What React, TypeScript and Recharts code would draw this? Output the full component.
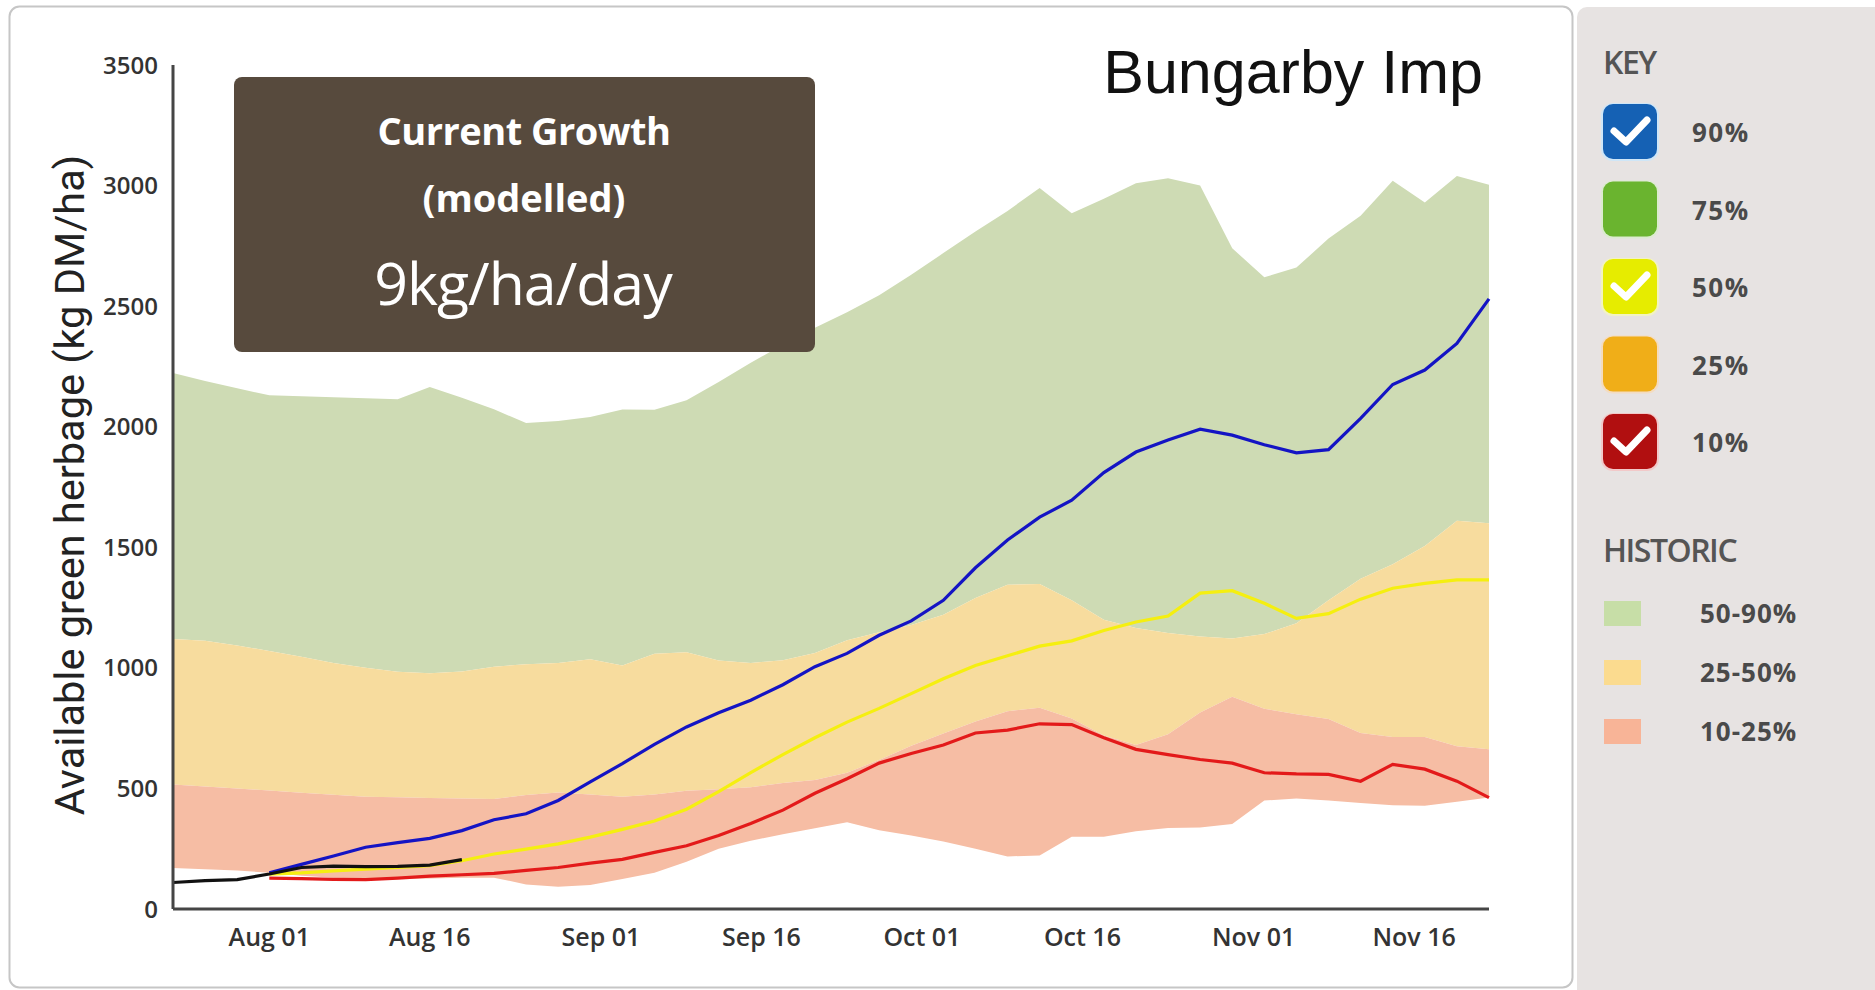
import React from 'react';
import { ComposedChart, Area, Line, XAxis, YAxis } from 'recharts';

// days since Jul 23, sampled every 3 days
const days = [0, 3, 6, 9, 12, 15, 18, 21, 24, 27, 30, 33, 36, 39, 42, 45, 48, 51, 54, 57, 60, 63, 66, 69, 72, 75, 78, 81, 84, 87, 90, 93, 96, 99, 102, 105, 108, 111, 114, 117, 120, 123];

const tickDays = [9, 24, 40, 55, 70, 85, 101, 116];
const tickLabels = ['Aug 01', 'Aug 16', 'Sep 01', 'Sep 16', 'Oct 01', 'Oct 16', 'Nov 01', 'Nov 16'];
const yTicks = [0, 500, 1000, 1500, 2000, 2500, 3000, 3500];

// historic percentiles
const hist90 = [2223, 2190, 2159, 2130, 2126, 2122, 2118, 2114, 2165, 2120, 2072, 2015, 2024, 2040, 2071, 2070, 2110, 2185, 2265, 2340, 2410, 2475, 2545, 2630, 2720, 2810, 2895, 2990, 2885, 2945, 3010, 3030, 3000, 2740, 2620, 2660, 2780, 2875, 3020, 2930, 3040, 3003];
const hist50 = [1120, 1112, 1093, 1070, 1046, 1020, 1000, 984, 978, 985, 1005, 1015, 1020, 1036, 1010, 1058, 1065, 1030, 1020, 1032, 1062, 1115, 1148, 1178, 1220, 1290, 1345, 1348, 1280, 1200, 1165, 1145, 1130, 1122, 1140, 1185, 1280, 1370, 1430, 1505, 1610, 1600];
const hist25 = [516, 508, 500, 491, 482, 474, 466, 463, 460, 458, 456, 473, 483, 475, 466, 475, 490, 497, 505, 522, 535, 565, 618, 677, 728, 778, 820, 835, 790, 720, 680, 725, 815, 880, 830, 808, 788, 730, 713, 713, 675, 662];
const hist10 = [170, 165, 160, 150, 138, 130, 126, 125, 127, 130, 130, 102, 92, 100, 124, 150, 196, 250, 283, 310, 335, 360, 327, 305, 280, 250, 218, 222, 300, 300, 322, 336, 338, 352, 450, 458, 450, 440, 430, 428, 445, 462];

// modelled outlook, starting Aug 01 (index 3)
const modelStart = 3;
const model90 = [150, 185, 220, 256, 275, 293, 325, 370, 395, 450, 527, 603, 683, 755, 814, 866, 930, 1005, 1060, 1135, 1195, 1280, 1415, 1530, 1625, 1695, 1810, 1895, 1945, 1990, 1965, 1925, 1892, 1905, 2035, 2175, 2235, 2345, 2530];
const model50 = [145, 150, 158, 165, 172, 180, 200, 228, 248, 270, 298, 330, 365, 414, 487, 566, 640, 710, 775, 832, 893, 955, 1010, 1050, 1090, 1112, 1155, 1190, 1215, 1310, 1320, 1268, 1205, 1225, 1285, 1330, 1350, 1365, 1365];
const model10 = [128, 126, 123, 122, 128, 136, 142, 148, 160, 172, 190, 206, 235, 262, 305, 355, 410, 480, 540, 605, 645, 680, 730, 742, 768, 765, 710, 662, 640, 620, 605, 565, 560, 558, 530, 600, 580, 530, 462];

// observed so far
const observed = [110, 118, 122, 145, 172, 178, 176, 177, 182, 205];

const keyItems = [
  { label: '90%', color: '#1561b4', glow: '#cfe6f7', checked: true },
  { label: '75%', color: '#6ab42f', glow: '#dcebd0', checked: false },
  { label: '50%', color: '#e6ec00', glow: '#f2f3c2', checked: true },
  { label: '25%', color: '#f0ae18', glow: '#f4dcc0', checked: false },
  { label: '10%', color: '#b10f10', glow: '#f2c9c9', checked: true },
];

const historicItems = [
  { label: '50-90%', color: '#c7dea7' },
  { label: '25-50%', color: '#fbdb8f' },
  { label: '10-25%', color: '#f8b497' },
];

const rows = days.map((d, i) => ({
  day: d,
  green: [hist50[i], hist90[i]],
  orange: [hist25[i], hist50[i]],
  pink: [hist10[i], hist25[i]],
  m90: i >= modelStart ? model90[i - modelStart] : null,
  m50: i >= modelStart ? model50[i - modelStart] : null,
  m10: i >= modelStart ? model10[i - modelStart] : null,
  obs: i < observed.length ? observed[i] : null,
}));

const xTickFont = { fontSize: 25, fill: '#333', fontFamily: 'Open Sans', fontWeight: 600 };
const yTickFont = { fontSize: 24, fill: '#333', fontFamily: 'Open Sans', fontWeight: 600 };
const axisStyle = { stroke: '#454545', strokeWidth: 3 };

const Check = ({ x, y }: { x: number; y: number }) => (
  <path
    d={`M${x + 11} ${y + 27} L${x + 23} ${y + 38} L${x + 44} ${y + 16}`}
    fill="none"
    stroke="#fff"
    strokeWidth={7}
    strokeLinecap="round"
    strokeLinejoin="round"
  />
);

export default function App() {
  return (
    <div style={{ position: 'relative', width: 1875, height: 990, overflow: 'hidden', background: '#fff' }}>
      <style>{'body{margin:0}'}</style>

      {/* card and legend backgrounds */}
      <svg width={1875} height={990} style={{ position: 'absolute', left: 0, top: 0 }}>
        <rect x={9.5} y={6.5} width={1563} height={981} rx={10} fill="#fff" stroke="#c6c6c6" strokeWidth={2} />
        <rect x={1577} y={7} width={320} height={1000} rx={10} fill="#e7e3e2" />
      </svg>

      <div style={{ position: 'absolute', left: 0, top: 0 }}>
        <ComposedChart width={1575} height={990} data={rows} margin={{ top: 65, right: 86, bottom: 0, left: 0 }}>
          <XAxis
            dataKey="day"
            type="number"
            domain={[0, 123]}
            ticks={tickDays}
            interval={0}
            tickFormatter={(v) => tickLabels[tickDays.indexOf(v)]}
            axisLine={axisStyle}
            tickLine={false}
            tickSize={9}
            tickMargin={10}
            height={81}
            tick={xTickFont}
          />
          <YAxis
            type="number"
            domain={[0, 3500]}
            ticks={yTicks}
            interval={0}
            width={173}
            axisLine={axisStyle}
            tickLine={false}
            tickSize={6}
            tickMargin={9}
            tick={yTickFont}
          />
          <Area dataKey="green" type="linear" stroke="none" fill="#cedbb4" fillOpacity={1} isAnimationActive={false} activeDot={false} />
          <Area dataKey="orange" type="linear" stroke="none" fill="#f7dc9e" fillOpacity={1} isAnimationActive={false} activeDot={false} />
          <Area dataKey="pink" type="linear" stroke="none" fill="#f6bda4" fillOpacity={1} isAnimationActive={false} activeDot={false} />
          <Line dataKey="m10" type="linear" stroke="#e31a1a" strokeWidth={3.2} dot={false} activeDot={false} isAnimationActive={false} />
          <Line dataKey="m50" type="linear" stroke="#f5ef10" strokeWidth={3.2} dot={false} activeDot={false} isAnimationActive={false} />
          <Line dataKey="m90" type="linear" stroke="#1414c4" strokeWidth={3.2} dot={false} activeDot={false} isAnimationActive={false} />
          <Line dataKey="obs" type="linear" stroke="#111" strokeWidth={3.2} dot={false} activeDot={false} isAnimationActive={false} />
        </ComposedChart>
      </div>

      {/* annotations and legend */}
      <svg width={1875} height={990} style={{ position: 'absolute', left: 0, top: 0 }}>
        <text
          transform="translate(84,485) rotate(-90)"
          textAnchor="middle"
          fontFamily="Roboto"
          fontSize={41.5}
          fill="#222"
        >
          Available green herbage (kg DM/ha)
        </text>

        <text x={1483} y={93} textAnchor="end" fontFamily="Liberation Sans" fontSize={61} fill="#111">
          Bungarby Imp
        </text>

        <rect x={234} y={77} width={581} height={275} rx={8} fill="#574a3d" />
        <text x={524} y={145} textAnchor="middle" fontFamily="Open Sans" fontWeight={700} fontSize={38} fill="#fff" letterSpacing={-0.5}>
          Current Growth
        </text>
        <text x={524} y={212} textAnchor="middle" fontFamily="Open Sans" fontWeight={700} fontSize={38} fill="#fff">
          (modelled)
        </text>
        <text x={523} y={305} textAnchor="middle" fontFamily="Open Sans" fontSize={59} fill="#fff" letterSpacing={-1}>
          9kg/ha/day
        </text>

        <text x={1603} y={74} fontFamily="Open Sans" fontWeight={600} fontSize={32} fill="#555" letterSpacing={-1.5}>
          KEY
        </text>
        {keyItems.map((k, i) => {
          const y = 104 + i * 77.5;
          return (
            <g key={k.label}>
              <rect x={1601} y={y - 1} width={58} height={58} rx={12} fill={k.glow} />
              <rect x={1603} y={y} width={54} height={55} rx={10} fill={k.color} />
              {k.checked && <Check x={1603} y={y} />}
              <text x={1692} y={y + 38} fontFamily="Open Sans" fontWeight={700} fontSize={26} fill="#4a4a4a" letterSpacing={1.5}>
                {k.label}
              </text>
            </g>
          );
        })}

        <text x={1603} y={562} fontFamily="Open Sans" fontWeight={600} fontSize={32} fill="#555" letterSpacing={-1.5}>
          HISTORIC
        </text>
        {historicItems.map((h, i) => {
          const y = 601 + i * 59;
          return (
            <g key={h.label}>
              <rect x={1604} y={y} width={37} height={25} fill={h.color} />
              <text x={1700} y={y + 22} fontFamily="Open Sans" fontWeight={700} fontSize={26} fill="#4a4a4a" letterSpacing={1}>
                {h.label}
              </text>
            </g>
          );
        })}
      </svg>
    </div>
  );
}
